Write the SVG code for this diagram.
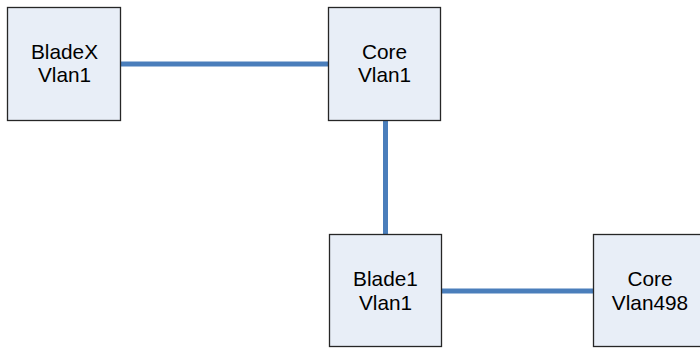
<svg xmlns="http://www.w3.org/2000/svg" width="700" height="349" viewBox="0 0 700 349">
<style>
.box{fill:#E8EEF7;stroke:#262626;stroke-width:1.3}
.lbl{font-family:"Liberation Sans",Arial,sans-serif;font-size:20.8px;fill:#000;text-anchor:middle}
.conn{stroke:#4A7EBB;stroke-width:5;fill:none}
</style>
<rect width="700" height="349" fill="#fff"/>
<g id="connectors">
<line class="conn" x1="120.5" y1="64" x2="328.5" y2="64"/>
<line class="conn" x1="385.5" y1="120" x2="385.5" y2="234"/>
<line class="conn" x1="441.5" y1="291" x2="593.5" y2="291"/>
</g>
<g id="bladex">
<rect class="box" x="7.5" y="7.5" width="113" height="113"/>
<text class="lbl" x="64.5" y="58.5">BladeX</text>
<text class="lbl" x="64.5" y="82">Vlan1</text>
</g>
<g id="core-vlan1">
<rect class="box" x="328.5" y="7.5" width="112" height="113"/>
<text class="lbl" x="384.5" y="58.5">Core</text>
<text class="lbl" x="384.5" y="82">Vlan1</text>
</g>
<g id="blade1">
<rect class="box" x="329.5" y="234.5" width="112" height="112"/>
<text class="lbl" x="385.5" y="285.5">Blade1</text>
<text class="lbl" x="385.5" y="309.5">Vlan1</text>
</g>
<g id="core-vlan498">
<rect class="box" x="593.5" y="234.5" width="113" height="112"/>
<text class="lbl" x="650" y="285.5">Core</text>
<text class="lbl" x="650" y="309.5">Vlan498</text>
</g>
</svg>
